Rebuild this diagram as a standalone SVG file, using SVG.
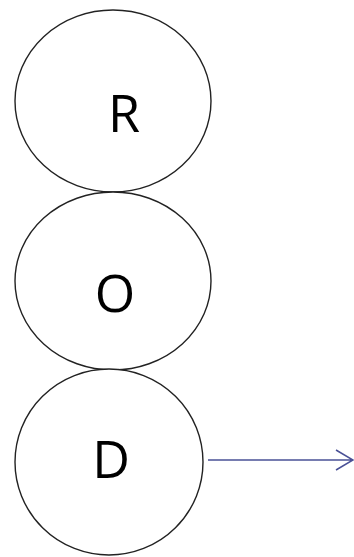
<svg xmlns="http://www.w3.org/2000/svg" width="354" height="557" viewBox="0 0 354 557">
<style>
.node{fill:#fff;stroke:#222;stroke-width:1.4}
.lbl{font-family:"Open Sans","Liberation Sans",sans-serif;font-size:52px;fill:#000;text-anchor:middle}
.conn{stroke:#4a5196;stroke-width:1.5;fill:none}
</style>
<rect width="354" height="557" fill="#fff"/>
<g id="node-R"><ellipse class="node" cx="113" cy="101" rx="98" ry="91"/><text class="lbl" x="124" y="132">R</text></g>
<g id="node-O"><ellipse class="node" cx="113" cy="281" rx="98" ry="89"/><text class="lbl" x="115" y="312">O</text></g>
<g id="node-D"><ellipse class="node" cx="109" cy="462" rx="94" ry="93"/><text class="lbl" x="111" y="478">D</text></g>
<g id="connectors"><path class="conn" d="M208 460H353M336 450L353 460L336 470"/></g>
</svg>
